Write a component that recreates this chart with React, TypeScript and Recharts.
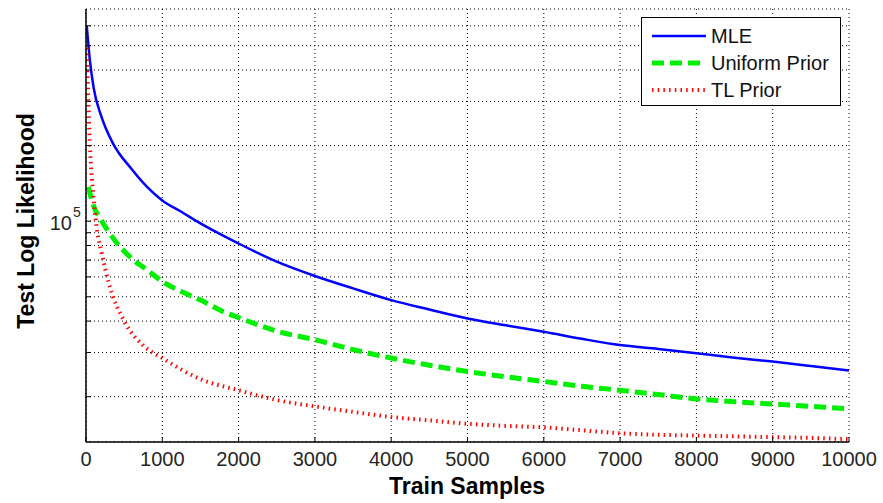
import { LineChart, Line, XAxis, YAxis, CartesianGrid, Legend, Label } from "recharts";

// MLE curve
const mleX = [10, 50, 100, 200, 350, 600, 800, 1000, 1250, 1500, 2000, 2500, 3000, 3500, 4000, 4500, 5000, 5500, 6000, 6500, 7000, 7500, 8000, 8500, 9000, 9500, 10000];
const mleY = [600000, 440000, 340000, 262000, 205000, 161000, 137000, 121000, 109000, 98000, 81500, 69000, 60500, 54000, 48500, 44500, 41000, 38500, 36300, 34000, 32100, 31000, 29800, 28600, 27600, 26500, 25400];

// Uniform prior curve
const uniformX = [30, 100, 200, 350, 600, 800, 1000, 1300, 1500, 1800, 2000, 2500, 3000, 3500, 4000, 4500, 5000, 5500, 6000, 6500, 7000, 7500, 8000, 8500, 9000, 9500, 10000];
const uniformY = [137000, 115000, 101000, 86000, 71000, 64000, 57500, 51600, 48500, 43600, 41300, 36500, 33700, 30800, 28500, 26700, 25200, 24000, 23000, 22000, 21200, 20400, 19600, 19100, 18700, 18300, 17900];

// TL prior curve
const tlX = [10, 30, 50, 100, 150, 200, 300, 500, 750, 1000, 1500, 2000, 2500, 3000, 3500, 4000, 4500, 5000, 5500, 6000, 6500, 7000, 7500, 8000, 8500, 9000, 9500, 10000];
const tlY = [490000, 300000, 205000, 122000, 90000, 76000, 56500, 40000, 32000, 28500, 23500, 21200, 19400, 18300, 17400, 16600, 16100, 15600, 15300, 15100, 14700, 14300, 14100, 14000, 13900, 13800, 13700, 13550];

const xTicks = [0, 1000, 2000, 3000, 4000, 5000, 6000, 7000, 8000, 9000, 10000];
const yTicks = [20000, 30000, 40000, 50000, 60000, 70000, 80000, 90000, 100000, 200000, 300000, 400000, 500000, 600000];

const seriesNames = ["MLE", "Uniform Prior", "TL Prior"];
const seriesColors = ["#0000ff", "#00ee00", "#ff0000"];
const seriesDash = [undefined, "12 6", "1.5 4.2"];
const seriesWidth = [2.5, 5, 4];

const toRows = (xs: number[], ys: number[]) => xs.map((x, i) => ({ x, v: ys[i] }));
const seriesData = [toRows(mleX, mleY), toRows(uniformX, uniformY), toRows(tlX, tlY)];

const FONT = "'Liberation Sans', Arial, sans-serif";

function YTick(props: any) {
  const { x, y, payload } = props;
  if (payload.value !== 100000) return <g />;
  return (
    <g fontFamily={FONT} fill="#262626">
      <text x={x - 14} y={y + 9} textAnchor="end" fontSize={20}>10</text>
      <text x={x - 13} y={y - 4} textAnchor="start" fontSize={14}>5</text>
    </g>
  );
}

function LegendBox() {
  return (
    <div
      style={{
        position: "relative",
        width: 200,
        height: 89,
        boxSizing: "border-box",
        border: "1px solid #000",
        background: "#fff",
        fontFamily: FONT,
        fontSize: 20,
        color: "#111",
      }}
    >
      {seriesNames.map((name, i) => (
        <div key={name} style={{ position: "absolute", left: 9, top: 6 + i * 27, height: 24, display: "flex", alignItems: "center" }}>
          <svg width={56} height={10} style={{ display: "block" }}>
            <line x1={1} y1={5} x2={55} y2={5} stroke={seriesColors[i]} strokeWidth={seriesWidth[i]} strokeDasharray={seriesDash[i]} />
          </svg>
          <span style={{ marginLeft: 4, lineHeight: "24px" }}>{name}</span>
        </div>
      ))}
    </div>
  );
}

export default function App() {
  return (
    <div style={{ position: "absolute", left: 0, top: 0, background: "#fff" }}>
      <LineChart width={883} height={503} margin={{ top: 9, right: 34, bottom: 0, left: 0 }}>
        <CartesianGrid stroke="#000" strokeDasharray="1 3" strokeWidth={1} />
        <XAxis
          dataKey="x"
          type="number"
          domain={[0, 10000]}
          ticks={xTicks}
          interval={0}
          allowDataOverflow
          height={61}
          tickSize={-5}
          tickMargin={15}
          axisLine={{ stroke: "#000", strokeWidth: 1.5 }}
          tickLine={{ stroke: "#000" }}
          tick={{ fontFamily: FONT, fontSize: 20, fill: "#262626" }}
        >
          <Label
            content={() => (
              <text x={467} y={494} textAnchor="middle" fontFamily={FONT} fontWeight="bold" fontSize={23} fill="#000">
                Train Samples
              </text>
            )}
          />
        </XAxis>
        <XAxis
          xAxisId="t"
          orientation="top"
          type="number"
          domain={[0, 10000]}
          ticks={xTicks}
          interval={0}
          allowDataOverflow
          height={0}
          tickSize={-5}
          tick={false}
          axisLine={{ stroke: "#000", strokeWidth: 1.5 }}
          tickLine={{ stroke: "#000" }}
        />
        <YAxis
          scale="log"
          type="number"
          domain={[13200, 700000]}
          ticks={yTicks}
          interval={0}
          allowDataOverflow
          width={86}
          tickSize={-5}
          tickMargin={5}
          axisLine={{ stroke: "#000", strokeWidth: 1.5 }}
          tickLine={{ stroke: "#000" }}
          tick={<YTick />}
        >
          <Label
            content={() => (
              <text
                x={34}
                y={221}
                textAnchor="middle"
                transform="rotate(-90, 34, 221)"
                fontFamily={FONT}
                fontWeight="bold"
                fontSize={23}
                fill="#000"
              >
                Test Log Likelihood
              </text>
            )}
          />
        </YAxis>
        <YAxis
          yAxisId="r"
          orientation="right"
          scale="log"
          type="number"
          domain={[13200, 700000]}
          ticks={yTicks}
          interval={0}
          allowDataOverflow
          width={0}
          tickSize={-5}
          tick={false}
          axisLine={{ stroke: "#000", strokeWidth: 1.5 }}
          tickLine={{ stroke: "#000" }}
        />
        {seriesNames.map((name, i) => (
          <Line
            key={name}
            name={name}
            data={seriesData[i]}
            dataKey="v"
            type="monotone"
            stroke={seriesColors[i]}
            strokeWidth={seriesWidth[i]}
            strokeDasharray={seriesDash[i]}
            dot={false}
            activeDot={false}
            isAnimationActive={false}
          />
        ))}
        <Legend
          layout="vertical"
          align="center"
          verticalAlign="middle"
          wrapperStyle={{ left: 641, top: 17, width: 200, height: 89 }}
          content={() => <LegendBox />}
        />
      </LineChart>
    </div>
  );
}
